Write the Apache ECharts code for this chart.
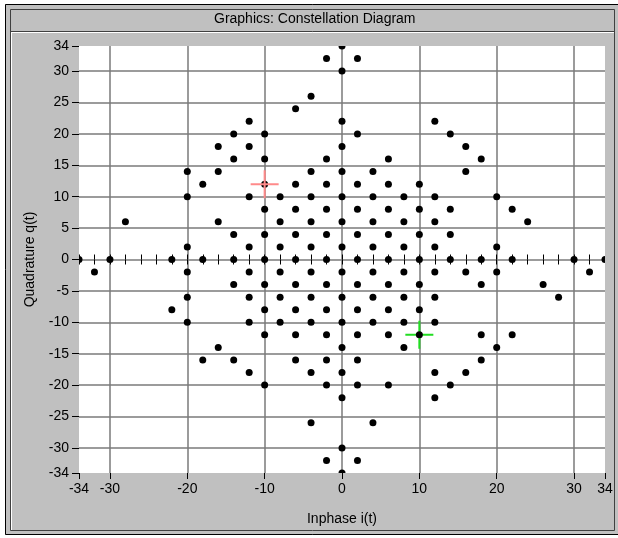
<!DOCTYPE html>
<html>
<head>
<meta charset="utf-8">
<title>Graphics: Constellation Diagram</title>
<script src="https://cdn.jsdelivr.net/npm/echarts@6/dist/echarts.min.js"></script>
<style>
  html, body { margin: 0; padding: 0; background: #fff; }
  #chart { width: 618px; height: 538px; }
</style>
</head>
<body>
<div id="chart"></div>
<script>
// Constellation points [i, q], grouped by half-plane
const iqUpper = [
  [-28, 6], [-20, 14], [-20, 10], [-20, 2], [-18, 12], [-16, 18], [-16, 14], [-16, 6],
  [-14, 20], [-14, 16], [-14, 4], [-12, 22], [-12, 18], [-12, 10], [-12, 2],
  [-10, 20], [-10, 16], [-10, 12], [-10, 8], [-10, 4], [-8, 10], [-8, 6], [-8, 2],
  [-6, 24], [-6, 12], [-6, 8], [-6, 4], [-4, 26], [-4, 14], [-4, 10], [-4, 6], [-4, 2],
  [-2, 32], [-2, 16], [-2, 12], [-2, 8], [-2, 4],
  [0, 34], [0, 30], [0, 22], [0, 18], [0, 14], [0, 10], [0, 6], [0, 2],
  [2, 32], [2, 20], [2, 12], [2, 8], [2, 4], [4, 14], [4, 10], [4, 6], [4, 2],
  [6, 16], [6, 12], [6, 8], [6, 4], [8, 10], [8, 6], [8, 2],
  [10, 12], [10, 8], [10, 4], [12, 22], [12, 10], [12, 6], [12, 2],
  [14, 20], [14, 8], [14, 4], [16, 18], [16, 14], [18, 16],
  [20, 10], [20, 2], [22, 8], [24, 6]
];
const iqAxis = [
  [-34, 0], [-30, 0], [-22, 0], [-18, 0], [-14, 0], [-10, 0], [-6, 0], [-2, 0],
  [2, 0], [6, 0], [10, 0], [14, 0], [18, 0], [22, 0], [30, 0], [34, 0]
];
const iqLower = [
  [-32, -2], [-20, -2], [-12, -2], [-8, -2], [-4, -2], [0, -2],
  [4, -2], [8, -2], [12, -2], [16, -2], [20, -2], [32, -2],
  [-14, -4], [-10, -4], [-6, -4], [-2, -4], [2, -4], [6, -4], [10, -4], [18, -4], [26, -4],
  [-20, -6], [-12, -6], [-8, -6], [-4, -6], [0, -6], [4, -6], [8, -6], [12, -6], [28, -6],
  [-22, -8], [-10, -8], [-6, -8], [-2, -8], [2, -8], [6, -8], [10, -8],
  [-20, -10], [-12, -10], [-8, -10], [-4, -10], [0, -10], [4, -10], [8, -10], [12, -10],
  [-10, -12], [-6, -12], [-2, -12], [2, -12], [6, -12], [10, -12], [18, -12], [22, -12],
  [-16, -14], [0, -14], [8, -14], [20, -14],
  [-18, -16], [-14, -16], [-6, -16], [-2, -16], [2, -16], [18, -16],
  [-12, -18], [-4, -18], [0, -18], [12, -18], [16, -18],
  [-10, -20], [-2, -20], [2, -20], [6, -20], [14, -20],
  [0, -22], [12, -22], [-4, -26], [4, -26],
  [0, -30], [-2, -32], [2, -32], [0, -34]
];

// Cursor positions
const redCursor = [[-10, 12]];
const greenCursor = [[10, -12]];

// Axis labels and grid positions
const xTickLabels = [-34, -30, -20, -10, 0, 10, 20, 30, 34];
const yTickLabels = [-34, -30, -25, -20, -15, -10, -5, 0, 5, 10, 15, 20, 25, 30, 34];
const xGridValues = [-30, -20, -10, 0, 10, 20, 30];
const yGridValues = [-30, -25, -20, -15, -10, -5, 0, 5, 10, 15, 20, 25, 30];

const FONT = 'Liberation Sans, Arial, sans-serif';
const PANEL = '#c0c0c0';
const GRID_LINE = { color: '#7a7a7a', width: 1.5 };
const CROSS = 'path://M0,13H28V15H0Z M13,0H15V28H13Z';

const chart = echarts.init(document.getElementById('chart'), null, { renderer: 'canvas' });

const labelStyle = { color: '#000', fontSize: 14, fontFamily: FONT };

chart.setOption({
  backgroundColor: PANEL,
  animation: false,
  title: {
    text: 'Graphics: Constellation Diagram',
    left: 214,
    top: 12,
    padding: 0,
    z: 12,
    textStyle: { color: '#000', fontSize: 14, fontWeight: 'normal', fontFamily: FONT }
  },
  grid: {
    left: 79, top: 46, width: 526, height: 427,
    show: true, backgroundColor: '#fff', borderWidth: 0
  },
  xAxis: [
    { // tick labels and axis name
      type: 'value', min: -34, max: 34, position: 'bottom', z: 5,
      axisLine: { show: false, onZero: false },
      axisTick: { show: true, customValues: xTickLabels, length: 6, lineStyle: { color: '#000', width: 1 } },
      axisLabel: { customValues: xTickLabels, margin: 9, ...labelStyle },
      splitLine: { show: false },
      name: 'Inphase i(t)', nameLocation: 'middle', nameGap: 39,
      nameTextStyle: labelStyle
    },
    { // vertical grid lines
      type: 'value', min: -34, max: 34, z: 0,
      axisLine: { show: false, onZero: false },
      axisTick: { show: false, customValues: xGridValues },
      axisLabel: { show: false },
      splitLine: { show: true, lineStyle: GRID_LINE }
    },
    { // small ticks on the zero line, downward
      type: 'value', min: -34, max: 34, interval: 2, z: 1,
      axisLine: { show: false, onZero: true, onZeroAxisIndex: 0 },
      axisTick: { show: true, length: 5, inside: false, lineStyle: { color: '#000' } },
      axisLabel: { show: false },
      splitLine: { show: false }
    },
    { // small ticks on the zero line, upward
      type: 'value', min: -34, max: 34, interval: 2, z: 1,
      axisLine: { show: false, onZero: true, onZeroAxisIndex: 0 },
      axisTick: { show: true, length: 5, inside: true, lineStyle: { color: '#000' } },
      axisLabel: { show: false },
      splitLine: { show: false }
    }
  ],
  yAxis: [
    { // tick labels and axis name
      type: 'value', min: -34, max: 34, position: 'left', z: 5,
      axisLine: { show: false, onZero: false },
      axisTick: { show: true, customValues: yTickLabels, length: 7, lineStyle: { color: '#000', width: 1 } },
      axisLabel: { customValues: yTickLabels, margin: 10, ...labelStyle },
      splitLine: { show: false },
      name: 'Quadrature q(t)', nameLocation: 'middle', nameGap: 42,
      nameTextStyle: labelStyle
    },
    { // horizontal grid lines
      type: 'value', min: -34, max: 34, z: 0,
      axisLine: { show: false, onZero: false },
      axisTick: { show: false, customValues: yGridValues },
      axisLabel: { show: false },
      splitLine: { show: true, lineStyle: GRID_LINE }
    }
  ],
  series: [
    {
      name: 'green cursor', type: 'scatter', z: 1.5,
      xAxisIndex: 0, yAxisIndex: 0,
      data: greenCursor, symbol: CROSS, symbolSize: 28,
      itemStyle: { color: '#22dd22', opacity: 1 }, silent: true
    },
    {
      name: 'points', type: 'scatter', z: 2,
      xAxisIndex: 0, yAxisIndex: 0,
      data: iqUpper.concat(iqAxis, iqLower),
      symbol: 'circle', symbolSize: 7,
      itemStyle: { color: '#000', opacity: 1 }, silent: true
    },
    {
      name: 'red cursor', type: 'scatter', z: 2.5,
      xAxisIndex: 0, yAxisIndex: 0,
      data: redCursor, symbol: CROSS, symbolSize: 28,
      itemStyle: { color: '#ff8a8a', opacity: 1 }, silent: true
    }
  ],
  graphic: [
    // panel strips around the plot area, so edge dots are cut at the border
    { type: 'rect', z: 3, silent: true, shape: { x: 12, y: 33, width: 602, height: 13 }, style: { fill: PANEL } },
    { type: 'rect', z: 3, silent: true, shape: { x: 12, y: 33, width: 67, height: 497 }, style: { fill: PANEL } },
    { type: 'rect', z: 3, silent: true, shape: { x: 605, y: 33, width: 9, height: 497 }, style: { fill: PANEL } },
    { type: 'rect', z: 3, silent: true, shape: { x: 12, y: 473, width: 602, height: 57 }, style: { fill: PANEL } },
    // window frame
    { type: 'rect', z: 10, silent: true, shape: { x: 0, y: 0, width: 618, height: 4 }, style: { fill: '#fff' } },
    { type: 'rect', z: 10, silent: true, shape: { x: 0, y: 0, width: 5, height: 538 }, style: { fill: '#fff' } },
    { type: 'rect', z: 10, silent: true, shape: { x: 0, y: 535, width: 618, height: 3 }, style: { fill: '#fff' } },
    { type: 'rect', z: 10, silent: true, shape: { x: 5.5, y: 4.5, width: 640, height: 530 }, style: { fill: null, stroke: '#000', lineWidth: 1 } },
    { type: 'rect', z: 10, silent: true, shape: { x: 10.5, y: 9.5, width: 604, height: 521 }, style: { fill: null, stroke: '#404040', lineWidth: 1 } },
    { type: 'line', z: 10, silent: true, shape: { x1: 11, y1: 31.5, x2: 614, y2: 31.5 }, style: { stroke: '#404040', lineWidth: 1 } },
    { type: 'line', z: 10, silent: true, shape: { x1: 11, y1: 32.5, x2: 614, y2: 32.5 }, style: { stroke: '#ffffff', lineWidth: 1 } },
    { type: 'line', z: 10, silent: true, shape: { x1: 11.5, y1: 33, x2: 11.5, y2: 530 }, style: { stroke: '#ffffff', lineWidth: 1 } }
  ]
});
</script>
</body>
</html>
